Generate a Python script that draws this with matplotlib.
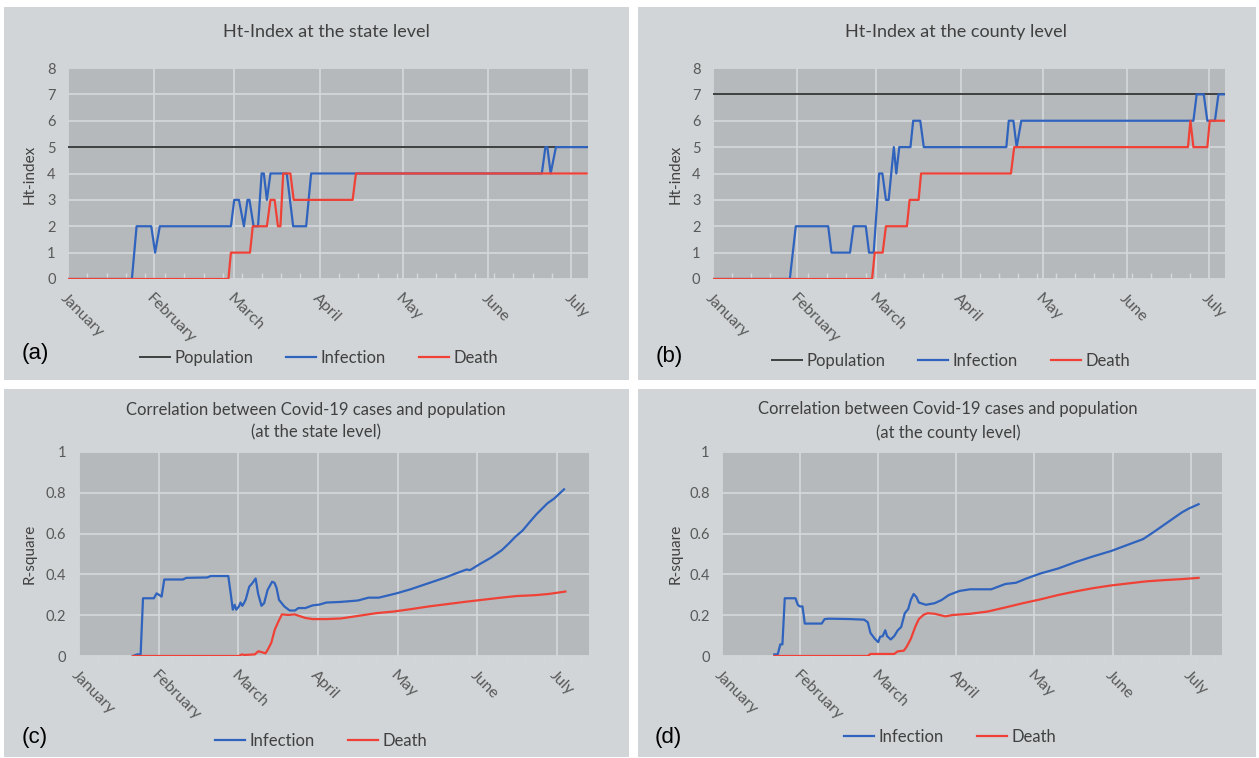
import matplotlib.pyplot as plt
from matplotlib.patches import Rectangle
from matplotlib.lines import Line2D
from matplotlib.ticker import MultipleLocator

plt.rcParams['font.family'] = ['Lato', 'DejaVu Sans']

#---Axis labels:
months = ['January', 'February', 'March', 'April', 'May', 'June', 'July']
month_days_top = [0, 31, 60, 91, 121, 152, 182]      # calendar months (Ht-index charts)
month_days_bottom = [0, 30, 60, 90, 120, 150, 180]   # 30-day steps (R-square charts)

#---(a) Ht-index at the state level (day of year, value):
state_pop_days = [0, 187.5]
state_pop_vals = [5, 5]
state_inf_days = [0, 23.1, 24.8, 30.1, 31.5, 33.2, 58.9, 60.1, 61.8, 63.6, 64.9, 65.6, 67.1, 68.7,
                  70.0, 70.8, 71.9, 73.2, 79.1, 81.4, 86.1, 87.9, 171.3, 172.6, 173.3, 174.5, 176.4, 187.5]
state_inf_vals = [0, 0, 2, 2, 1, 2, 2, 3, 3, 2, 3, 3, 2, 2,
                  4, 4, 3, 4, 4, 2, 2, 4, 4, 5, 5, 4, 5, 5]
state_death_days = [0, 58.0, 58.9, 65.8, 66.8, 71.9, 73.2, 74.7, 75.9, 76.8, 77.8, 80.4, 81.6,
                    102.9, 104.1, 187.5]
state_death_vals = [0, 0, 1, 1, 2, 2, 3, 3, 2, 2, 4, 4, 3, 3, 4, 4]

#---(b) Ht-index at the county level:
county_pop_days = [0, 187.6]
county_pop_vals = [7, 7]
county_inf_days = [0, 28.2, 30.4, 42.3, 43.5, 50.3, 51.6, 56.1, 57.3, 59.0, 61.0, 62.2, 63.5, 64.5,
                   66.4, 67.3, 68.4, 72.5, 73.5, 76.1, 77.4, 107.7, 108.6, 110.3, 111.5, 113.2,
                   176.4, 177.6, 180.2, 181.5, 184.3, 185.6, 187.6]
county_inf_vals = [0, 0, 2, 2, 1, 1, 2, 2, 1, 1, 4, 4, 3, 3,
                   5, 4, 5, 5, 6, 6, 5, 5, 6, 6, 5, 6,
                   6, 7, 7, 6, 6, 7, 7]
county_death_days = [0, 58.4, 59.4, 62.3, 63.5, 71.2, 72.2, 75.5, 76.4, 109.4, 110.6, 174.4, 175.3,
                     176.4, 181.5, 182.4, 187.6]
county_death_vals = [0, 0, 1, 1, 2, 2, 3, 3, 4, 4, 5, 5, 6, 5, 5, 6, 6]

#---(c) R-square at the state level:
rs_state_inf_days = [20.3, 21.9, 23.2, 24.1, 28.2, 29.2, 30.1, 31.1, 32.1, 39.1, 40.4, 48.3, 49.6, 56.2,
                     57.1, 57.9, 58.6, 59.2, 60.2, 60.8, 61.5, 62.1, 62.8, 64.1, 65.2, 66.5, 67.4, 68.7,
                     69.7, 71.0, 72.7, 73.6, 74.4, 75.3, 77.3, 79.3, 81.3, 82.6, 85.2, 87.9, 90.5, 93.1,
                     98.4, 105.0, 109.0, 112.9, 119.5, 124.8, 131.4, 138.0, 141.9, 145.9, 147.2, 151.2,
                     155.1, 159.1, 161.7, 164.4, 167.0, 169.7, 172.3, 176.3, 178.9, 182.6]
rs_state_inf_vals = [0, 0.008, 0.008, 0.283, 0.283, 0.307, 0.300, 0.291, 0.375, 0.375, 0.383, 0.385, 0.392, 0.392,
                     0.307, 0.227, 0.251, 0.227, 0.243, 0.262, 0.246, 0.259, 0.278, 0.340, 0.356, 0.380, 0.307, 0.246,
                     0.259, 0.324, 0.364, 0.359, 0.332, 0.275, 0.243, 0.223, 0.223, 0.235, 0.235, 0.248, 0.252, 0.262,
                     0.265, 0.272, 0.286, 0.286, 0.307, 0.327, 0.356, 0.385, 0.405, 0.424, 0.421, 0.453,
                     0.482, 0.518, 0.550, 0.586, 0.615, 0.657, 0.696, 0.748, 0.772, 0.817]
rs_state_death_days = [20.3, 60.2, 61.3, 62.2, 66.2, 67.5, 68.8, 70.2, 71.1, 72.4, 73.7, 75.1, 76.4, 78.8,
                       81.2, 82.7, 85.4, 88.0, 93.3, 98.6, 105.3, 111.9, 118.5, 125.1, 131.7, 138.4, 145.0,
                       151.6, 158.2, 164.8, 171.5, 176.8, 183.1]
rs_state_death_vals = [0, 0, 0.008, 0.005, 0.008, 0.023, 0.019, 0.013, 0.032, 0.065, 0.129, 0.170, 0.204, 0.201,
                       0.204, 0.197, 0.186, 0.181, 0.181, 0.184, 0.197, 0.210, 0.218, 0.230, 0.243, 0.254, 0.265,
                       0.275, 0.285, 0.294, 0.298, 0.304, 0.316]

#---(d) R-square at the county level:
rs_county_inf_days = [20.1, 21.4, 22.4, 23.2, 24.1, 28.2, 29.1, 29.9, 30.9, 31.8, 38.3, 39.4, 41.1, 49.2,
                      54.6, 56.0, 57.0, 58.7, 60.0, 60.7, 61.7, 62.7, 63.4, 64.8, 66.1, 67.5, 68.8, 70.2,
                      71.5, 72.5, 73.6, 74.7, 75.6, 78.3, 81.7, 84.4, 87.1, 91.2, 95.3, 99.3, 103.4, 106.1,
                      108.8, 112.9, 116.9, 122.4, 129.1, 135.9, 142.7, 149.5, 156.2, 161.7, 165.7, 171.1,
                      176.6, 179.3, 183.0]
rs_county_inf_vals = [0.008, 0.008, 0.057, 0.057, 0.283, 0.283, 0.251, 0.243, 0.243, 0.159, 0.159, 0.181, 0.183, 0.181,
                      0.178, 0.165, 0.113, 0.084, 0.068, 0.094, 0.097, 0.126, 0.097, 0.081, 0.097, 0.126, 0.142, 0.210,
                      0.230, 0.275, 0.304, 0.288, 0.262, 0.251, 0.259, 0.275, 0.299, 0.319, 0.327, 0.327, 0.327, 0.340,
                      0.353, 0.359, 0.380, 0.405, 0.429, 0.461, 0.489, 0.515, 0.547, 0.573, 0.607, 0.655,
                      0.704, 0.723, 0.744]
rs_county_death_days = [20.1, 56.0, 57.0, 66.1, 67.5, 69.8, 70.9, 72.5, 74.3, 75.6, 77.4, 79.0, 81.7, 85.8,
                        88.5, 95.3, 102.0, 108.8, 115.6, 122.4, 129.1, 135.9, 142.7, 149.5, 156.2, 163.0,
                        169.8, 176.6, 183.0]
rs_county_death_vals = [0, 0, 0.010, 0.010, 0.023, 0.026, 0.045, 0.084, 0.146, 0.181, 0.202, 0.210, 0.207, 0.194,
                        0.201, 0.207, 0.218, 0.238, 0.259, 0.278, 0.299, 0.317, 0.333, 0.346, 0.356, 0.366,
                        0.372, 0.377, 0.383]

#---Style:
W, H = 1259, 758
PANEL_BG = '#d1d5d7'
PLOT_BG = '#b5b9bc'
GRID = '#d6d9db'
TEXT = '#404040'
TICK = '#595959'
BLUE = '#2f63bd'
RED = '#ef4136'
BLACK = '#3f3f3f'

fig = plt.figure(figsize=(W / 100, H / 100), dpi=100)
fig.patch.set_facecolor('white')


def px_box(x0, y0, x1, y1):
    # pixel box (top-left origin) -> figure fraction [left, bottom, width, height]
    return [x0 / W, 1 - y1 / H, (x1 - x0) / W, (y1 - y0) / H]


#---Panel backgrounds (behind the axes):
for (x0, y0, x1, y1) in [(4, 7, 629, 380), (638, 7, 1256, 380), (4, 389, 629, 757), (638, 389, 1256, 757)]:
    l, b, w, h = px_box(x0, y0, x1, y1)
    fig.patches.append(Rectangle((l, b), w, h, transform=fig.transFigure, facecolor=PANEL_BG,
                                 edgecolor='none', zorder=-10))


def setup_axes(box, xmax, month_days, ymax, ystep, tick_dir):
    ax = fig.add_axes(px_box(*box))
    ax.set_zorder(1)
    ax.set_facecolor(PLOT_BG)
    for s in ax.spines.values():
        s.set_visible(False)
    ax.set_xlim(0, xmax)
    ax.set_ylim(0, ymax)
    ax.yaxis.set_major_locator(MultipleLocator(ystep))
    ax.yaxis.set_major_formatter('{x:g}')
    ax.set_xticks(month_days)
    ax.set_xticklabels(months, rotation=-45, ha='left', va='top', rotation_mode='anchor',
                       fontsize=11.5, color=TICK)
    ax.xaxis.set_minor_locator(MultipleLocator(7))
    ax.tick_params(axis='x', which='major', length=0, pad=9)
    ax.tick_params(axis='x', which='minor', length=4, width=1, color=GRID, direction=tick_dir)
    ax.tick_params(axis='y', length=0, pad=9, labelsize=10.5, labelcolor=TICK)
    ax.grid(True, which='major', color=GRID, linewidth=1.2)
    ax.set_axisbelow(True)
    return ax


def legend_at(ax, handles, labels, cx, cy):
    ax.legend(handles, labels, loc='center', bbox_to_anchor=(cx / W, 1 - cy / H),
              bbox_transform=fig.transFigure, ncol=len(handles), frameon=False,
              handlelength=1.8, handletextpad=0.25, columnspacing=2.0,
              prop={'size': 12}, labelcolor=TEXT)


def pop_handle():
    return Line2D([], [], color=BLACK, lw=1.4)


#---(a)
ax_a = setup_axes((68, 68, 588, 279), 188, month_days_top, 8, 1, 'in')
ax_a.plot(state_pop_days, state_pop_vals, color=BLACK, lw=1.4)
ax_a.plot(state_inf_days, state_inf_vals, color=BLUE, lw=1.6)
ax_a.plot(state_death_days, state_death_vals, color=RED, lw=1.6)
fig.text(326 / W, 1 - 32 / H, 'Ht-Index at the state level', ha='center', va='center', fontsize=13, color=TEXT)
fig.text(30 / W, 1 - 174 / H, 'Ht-index', rotation=90, ha='center', va='center', fontsize=11, color=TEXT)
legend_at(ax_a, [pop_handle(), Line2D([], [], color=BLUE, lw=1.6), Line2D([], [], color=RED, lw=1.6)],
          ['Population', 'Infection', 'Death'], 319, 358)

#---(b)
ax_b = setup_axes((713, 68, 1225, 279), 188, month_days_top, 8, 1, 'in')
ax_b.plot(county_pop_days, county_pop_vals, color=BLACK, lw=1.4)
ax_b.plot(county_inf_days, county_inf_vals, color=BLUE, lw=1.6)
ax_b.plot(county_death_days, county_death_vals, color=RED, lw=1.6)
fig.text(956 / W, 1 - 32 / H, 'Ht-Index at the county level', ha='center', va='center', fontsize=13, color=TEXT)
fig.text(676 / W, 1 - 174 / H, 'Ht-index', rotation=90, ha='center', va='center', fontsize=11, color=TEXT)
legend_at(ax_b, [pop_handle(), Line2D([], [], color=BLUE, lw=1.6), Line2D([], [], color=RED, lw=1.6)],
          ['Population', 'Infection', 'Death'], 951, 361)

#---(c)
ax_c = setup_axes((79, 452, 589, 656), 192, month_days_bottom, 1, 0.2, 'out')
ax_c.plot(rs_state_inf_days, rs_state_inf_vals, color=BLUE, lw=1.6)
ax_c.plot(rs_state_death_days, rs_state_death_vals, color=RED, lw=1.6)
fig.text(316 / W, 1 - 421 / H, 'Correlation between Covid-19 cases and population\n(at the state level)',
         ha='center', va='center', fontsize=12, color=TEXT, linespacing=1.5)
fig.text(30 / W, 1 - 554 / H, 'R-square', rotation=90, ha='center', va='center', fontsize=11, color=TEXT)
legend_at(ax_c, [Line2D([], [], color=BLUE, lw=1.6), Line2D([], [], color=RED, lw=1.6)],
          ['Infection', 'Death'], 321, 741)

#---(d)
ax_d = setup_axes((722, 452, 1222, 656), 192, month_days_bottom, 1, 0.2, 'out')
ax_d.plot(rs_county_inf_days, rs_county_inf_vals, color=BLUE, lw=1.6)
ax_d.plot(rs_county_death_days, rs_county_death_vals, color=RED, lw=1.6)
fig.text(948 / W, 1 - 421 / H, 'Correlation between Covid-19 cases and population\n(at the county level)',
         ha='center', va='center', fontsize=12, color=TEXT, linespacing=1.5)
fig.text(676 / W, 1 - 554 / H, 'R-square', rotation=90, ha='center', va='center', fontsize=11, color=TEXT)
legend_at(ax_d, [Line2D([], [], color=BLUE, lw=1.6), Line2D([], [], color=RED, lw=1.6)],
          ['Infection', 'Death'], 950, 737)

#---Panel letters:
for lab, x, y in [('(a)', 22, 353), ('(b)', 656, 357), ('(c)', 22, 737), ('(d)', 655, 737)]:
    fig.text(x / W, 1 - y / H, lab, ha='left', va='center', fontsize=16, color='black',
             family=['Liberation Sans', 'DejaVu Sans'])

fig.savefig('out.png', dpi=100, facecolor='white')
